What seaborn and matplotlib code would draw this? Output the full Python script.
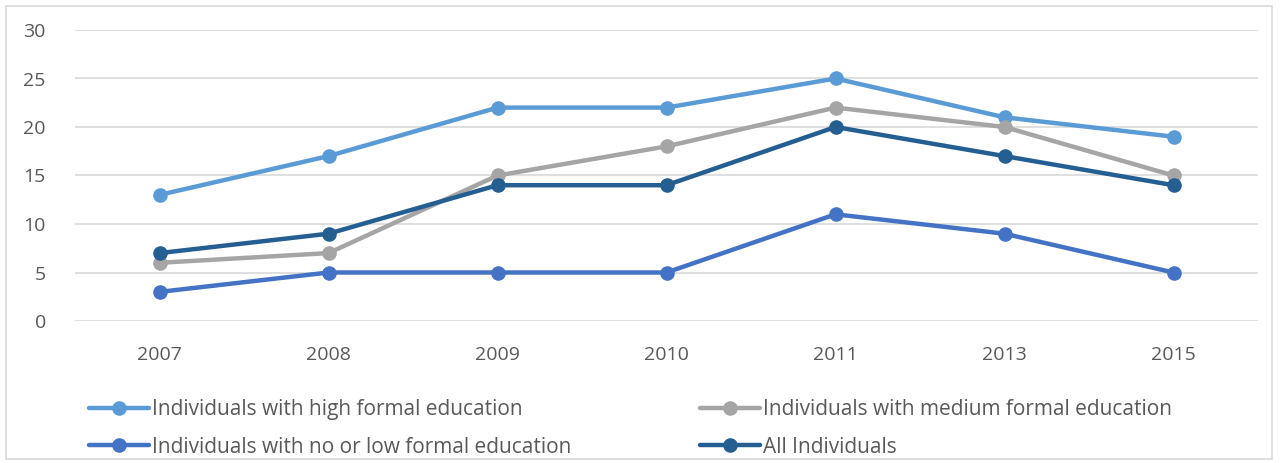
import matplotlib
matplotlib.use("Agg")
import matplotlib.pyplot as plt
import seaborn as sns
import pandas as pd
from matplotlib.patches import Rectangle

years = ["2007", "2008", "2009", "2010", "2011", "2013", "2015"]
high = [13, 17, 22, 22, 25, 21, 19]
medium = [6, 7, 15, 18, 22, 20, 15]
low = [3, 5, 5, 5, 11, 9, 5]
all_ind = [7, 9, 14, 14, 20, 17, 14]

series_names = [
    "Individuals with high formal education",
    "Individuals with medium formal education",
    "Individuals with no or low formal education",
    "All Individuals",
]
series_values = [high, medium, low, all_ind]
colors = ["#5B9BD5", "#A5A5A5", "#4472C4", "#255E91"]

rows = []
for name, vals in zip(series_names, series_values):
    for i, (y, v) in enumerate(zip(years, vals)):
        rows.append({"idx": i, "year": y, "value": v, "series": name})
df = pd.DataFrame(rows)

sns.set_style("white")
plt.rcParams["font.family"] = ["Open Sans", "DejaVu Sans"]

fig = plt.figure(figsize=(12.8, 4.63), dpi=100)
ax = fig.add_axes([75 / 1280, 1 - 321 / 463, (1258 - 75) / 1280, (321 - 30) / 463])

sns.lineplot(data=df, x="idx", y="value", hue="series", hue_order=series_names,
             palette=colors, marker="o", markersize=10.5, linewidth=3.2,
             markeredgewidth=0, ax=ax, legend=True)

ax.set_xlim(-0.5, len(years) - 0.5)
ax.set_ylim(0, 30)
ax.set_yticks(range(0, 31, 5))
ax.set_xticks(range(len(years)))
ax.set_xticklabels(years)
ax.set_xlabel("")
ax.set_ylabel("")
ax.grid(axis="y", color="#D9D9D9", linewidth=1.2)
ax.set_axisbelow(True)
for s in ax.spines.values():
    s.set_visible(False)
ax.tick_params(axis="both", length=0, labelsize=14, labelcolor="#595959")
ax.tick_params(axis="y", pad=21)
ax.tick_params(axis="x", pad=18)

handles, labels = ax.get_legend_handles_labels()
ax.get_legend().remove()
order = [0, 2, 1, 3]
fig.legend([handles[i] for i in order], [labels[i] for i in order],
           loc="upper left", bbox_to_anchor=(89 / 1280, 1 - 399 / 463),
           ncol=2, frameon=False, fontsize=15, labelcolor="#595959",
           handlelength=2.9, handletextpad=0.1, columnspacing=6.2,
           labelspacing=0.8, borderaxespad=0, borderpad=0)

fig.patches.append(Rectangle((6 / 1280, 4 / 463), 1266 / 1280, 453 / 463,
                             transform=fig.transFigure, fill=False,
                             edgecolor="#D9D9D9", linewidth=1.2))

fig.savefig("out.png", dpi=100)
